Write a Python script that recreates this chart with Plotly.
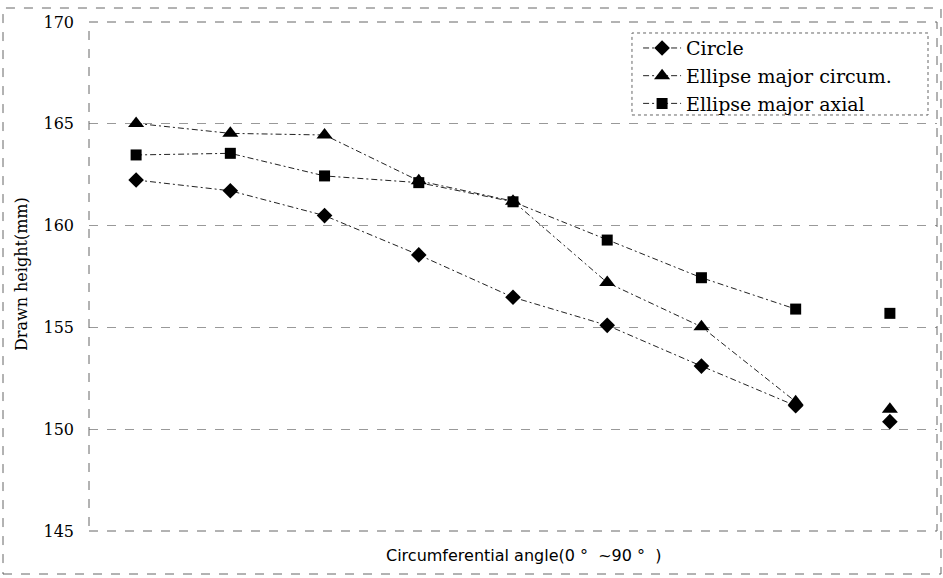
import plotly.graph_objects as go

angles = [0, 1, 2, 3, 4, 5, 6, 7, 8]
circle = [162.24, 161.71, 160.49, 158.56, 156.48, 155.10, 153.10, 151.15, 150.37]
circum = [165.02, 164.53, 164.45, 162.20, 161.20, 157.20, 155.03, 151.35, 150.98]
axial = [163.47, 163.55, 162.44, 162.11, 161.17, 159.29, 157.44, 155.90, 155.69]
names = ["Circle", "Ellipse major circum.", "Ellipse major axial"]
symbols = ["diamond", "triangle-up", "square"]
sizes = [12, 14, 11]
y_ticks = [145, 150, 155, 160, 165, 170]

fig = go.Figure()
series = [circle, circum, axial]
for name, vals, sym, sz in zip(names, series, symbols, sizes):
    # connected segment (last segment not drawn in the original)
    fig.add_trace(go.Scatter(
        x=angles[:8], y=vals[:8], mode="lines+markers", name=name,
        line=dict(color="#222", width=1, dash="6px,3px,2px,3px"),
        marker=dict(symbol=sym, size=sz, color="black"),
    ))
    fig.add_trace(go.Scatter(
        x=angles[8:], y=vals[8:], mode="markers", showlegend=False,
        marker=dict(symbol=sym, size=sz, color="black"),
    ))

dash_style = "dash"
shapes = [
    dict(type="rect", xref="paper", yref="paper", x0=0, x1=1, y0=0, y1=1,
         line=dict(color="#666", width=1, dash=dash_style)),
    dict(type="rect", xref="paper", yref="paper", x0=-0.1014, x1=1.0047,
         y0=-0.0845, y1=1.0275, line=dict(color="#666", width=1, dash=dash_style)),
    dict(type="rect", xref="paper", yref="paper", x0=0.6403, x1=0.9894,
         y0=0.8173, y1=0.9784, line=dict(color="#666", width=1, dash="dot")),
]

fig.update_layout(
    width=943, height=578,
    margin=dict(l=89, r=6, t=22, b=47),
    paper_bgcolor="white", plot_bgcolor="white",
    showlegend=True,
    legend=dict(x=0.6475, y=0.986, xanchor="left", yanchor="top",
                bgcolor="rgba(0,0,0,0)", borderwidth=0,
                font=dict(family="DejaVu Serif", size=19, color="black"),
                itemwidth=38, tracegroupgap=0),
    shapes=shapes,
    annotations=[
        dict(text="Circumferential angle(0 °  ~90 °  )", xref="paper", yref="paper",
             x=0.512, y=-0.049, xanchor="center", yanchor="middle", showarrow=False,
             font=dict(family="DejaVu Sans", size=16, color="black")),
        dict(text="Drawn height(mm)", xref="paper", yref="paper",
             x=-0.0789, y=0.505, xanchor="center", yanchor="middle", showarrow=False,
             textangle=-90, font=dict(family="DejaVu Serif", size=16, color="black")),
    ],
)
fig.update_xaxes(range=[-0.5, 8.5], showticklabels=False, showgrid=False,
                 zeroline=False, showline=False, ticks="")
fig.update_yaxes(range=[145, 170], tickvals=y_ticks, showgrid=True,
                 gridcolor="#999", griddash="dash", gridwidth=1, zeroline=False,
                 showline=False, ticks="", ticklabelstandoff=14,
                 tickfont=dict(family="DejaVu Serif", size=16, color="black"))

fig.write_html("out.html")
